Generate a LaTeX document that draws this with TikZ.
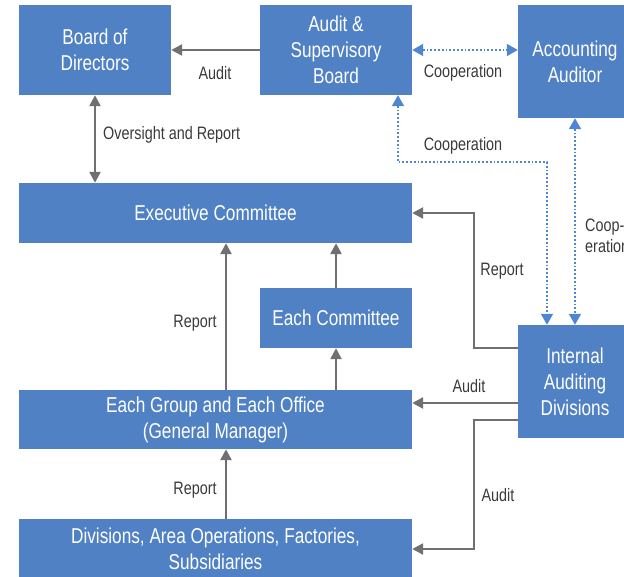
\documentclass[tikz,border=0pt]{standalone}
\usepackage{fontspec}
\setmainfont{Liberation Sans}[FakeStretch=0.8]
\usetikzlibrary{arrows.meta}
\definecolor{orgblue}{HTML}{4F81C4}
\definecolor{coopblue}{HTML}{4F86D2}
\definecolor{linegray}{HTML}{707070}
\definecolor{labelgray}{HTML}{3A3A3A}
\begin{document}
\begin{tikzpicture}[
        x=1pt, y=-1pt,
        unit/.style={rectangle, fill=orgblue, text=white, align=center, inner sep=0pt,
            font=\fontsize{21.5}{26}\selectfont},
        flow/.style={draw=linegray, line width=2.4pt, -{Triangle[length=11pt,width=11pt]}},
        coop/.style={draw=coopblue, line width=1.8pt, dotted,
            {Triangle[length=11pt,width=12pt]}-{Triangle[length=11pt,width=12pt]}},
        tag/.style={text=labelgray, font=\fontsize{18}{21}\selectfont, inner sep=0pt}
    ]
        \useasboundingbox (0,0) rectangle (624,577);
        \clip (0,0) rectangle (624,577);

        % Top row
        \node[unit, minimum width=152pt, minimum height=90pt] (board) at (95,50) {Board of\\Directors};
        \node[unit, minimum width=152pt, minimum height=90pt] (asb) at (336,50) {Audit \&\\Supervisory\\Board};
        \node[unit, minimum width=114pt, minimum height=113pt] (acc) at (575,61.5) {Accounting\\Auditor};

        % Executive side
        \node[unit, minimum width=393pt, minimum height=60pt] (exec) at (215.5,213) {Executive Committee};
        \node[unit, minimum width=152pt, minimum height=60pt] (comm) at (336,318) {Each Committee};
        \node[unit, minimum width=393pt, minimum height=59pt] (group) at (215.5,419.5) {Each Group and Each Office\\(General Manager)};
        \node[unit, minimum width=393pt, minimum height=60pt] (div) at (215.5,549) {Divisions, Area Operations, Factories,\\Subsidiaries};
        \node[unit, minimum width=114pt, minimum height=113pt] (iad) at (575,381.5) {Internal\\Auditing\\Divisions};

        % Audit and oversight
        \draw[flow] (asb.west) -- (board.east);
        \node[tag] (audittop) at (215,73) {Audit};
        \draw[flow, {Triangle[length=11pt,width=11pt]}-{Triangle[length=11pt,width=11pt]}] (board.south) -- (board.south |- exec.north);
        \node[tag, anchor=west] (oversight) at (103,135) {Oversight and Report};

        % Cooperation links
        \draw[coop] (asb.east) -- (asb.east -| acc.west);
        \node[tag] (coopa) at (463,73) {Cooperation};
        \draw[coop] ([xshift=62pt]asb.south) -- ++(0,67) -| ([xshift=-28pt]iad.north);
        \node[tag] (coopb) at (463,146) {Cooperation};
        \draw[coop] (acc.south) -- (iad.north);
        \node[tag, anchor=north west, align=left] (coopc) at (585,219) {Coop-\\eration};

        % Internal auditing
        \draw[flow] ([yshift=33.5pt]iad.west) -- ++(-44,0) |- (exec.east);
        \node[tag] (reportiad) at (502,271) {Report};
        \draw[flow] ([yshift=-21.5pt]iad.west) coordinate (ga) -- (ga -| group.east);
        \node[tag] (auditgroup) at (469,386) {Audit};
        \draw[flow] ([yshift=-38.5pt]iad.west) -- ++(-44,0) |- (div.east);
        \node[tag] (auditdiv) at (498,495) {Audit};

        % Reporting lines
        \draw[flow] ([xshift=10.5pt]group.north) coordinate (rg) -- (rg |- exec.south);
        \node[tag] (reportgroup) at (195,323) {Report};
        \draw[flow] (group.north -| comm.south) -- (comm.south);
        \draw[flow] (comm.north) -- (comm.north |- exec.south);
        \draw[flow] ([xshift=10.5pt]div.north) coordinate (rd) -- (rd |- group.south);
        \node[tag] (reportdiv) at (195,490) {Report};
    \end{tikzpicture}
\end{document}
